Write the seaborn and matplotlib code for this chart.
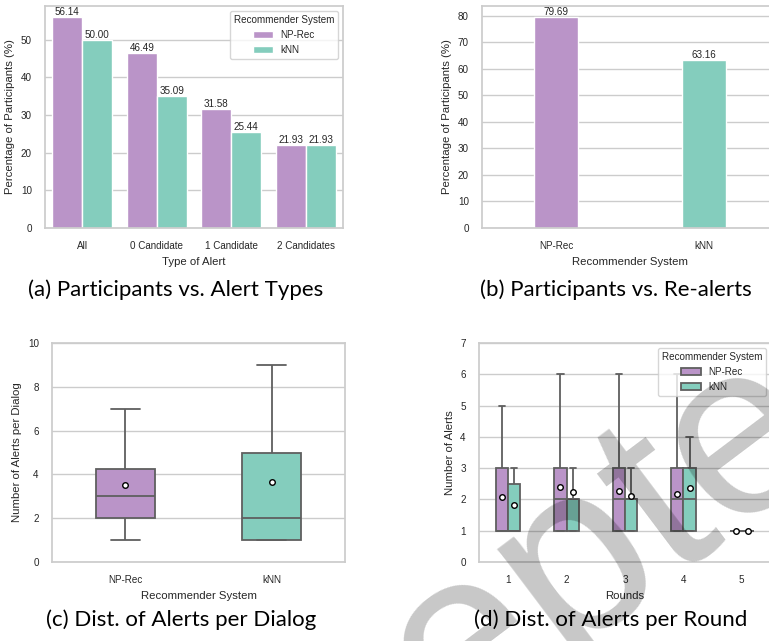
import pandas as pd
import matplotlib.pyplot as plt
import seaborn as sns

# --- data ---
systems = ['NP-Rec', 'kNN']
colors = ['#BA94C8', '#84CDBD']

alert_types = ['All', '0 Candidate', '1 Candidate', '2 Candidates']
np_rec_pct = [56.14, 46.49, 31.58, 21.93]
knn_pct = [50.00, 35.09, 25.44, 21.93]

realert_pct = [79.69, 63.16]

# alerts per dialog (samples chosen to give the drawn quartiles / means)
np_rec_dialog = [1, 1, 1, 2, 2, 2, 2, 3, 3, 3, 3, 3, 4, 4, 4, 5, 6, 7, 7, 7]
knn_dialog = [1, 1, 1, 1, 1, 2, 2, 2, 4, 5, 5, 8, 9, 9]

# alerts per round
rounds = [1, 2, 3, 4, 5]
np_rec_rounds = [
    [1, 1, 1, 1, 1, 1, 1, 3, 3, 3, 4, 5],
    [1, 1, 1, 1, 1, 1, 2, 2, 2, 2, 2, 3, 3, 3, 3, 4, 5, 6],
    [1, 1, 1, 1, 1, 1, 2, 2, 2, 2, 2, 3, 3, 3, 3, 3, 4, 6],
    [1, 1, 1, 1, 1, 1, 2, 2, 2, 2, 2, 2, 3, 3, 3, 3, 3, 6],
    [1, 1, 1],
]
knn_rounds = [
    [1, 1, 1, 1, 1, 1, 1, 2, 3, 3, 5],
    [1, 1, 1, 2, 2, 2, 2, 3, 6],
    [1, 1, 1, 2, 2, 2, 2, 3, 5],
    [1, 1, 1, 1, 1, 1, 2, 2, 2, 2, 3, 3, 3, 3, 3, 4, 4, 4, 4],
    [1, 1],
]

# --- long-form tables ---
df_a = pd.DataFrame({
    'Type of Alert': alert_types * 2,
    'pct': np_rec_pct + knn_pct,
    'Recommender System': ['NP-Rec'] * 4 + ['kNN'] * 4,
})
df_b = pd.DataFrame({'Recommender System': systems, 'pct': realert_pct})
df_c = pd.DataFrame({
    'Recommender System': ['NP-Rec'] * len(np_rec_dialog) + ['kNN'] * len(knn_dialog),
    'alerts': np_rec_dialog + knn_dialog,
})
rows = []
for r, a, b in zip(rounds, np_rec_rounds, knn_rounds):
    rows += [(r, 'NP-Rec', v) for v in a]
    rows += [(r, 'kNN', v) for v in b]
df_d = pd.DataFrame(rows, columns=['Rounds', 'Recommender System', 'alerts'])

sns.set_theme(style='whitegrid')
plt.rcParams['font.family'] = ['Liberation Sans', 'DejaVu Sans']

palette = dict(zip(systems, colors))
TICK = 7.1
LAB = 8.2
W, H = 769, 641

fig = plt.figure(figsize=(7.69, 6.41), dpi=100)

def box(l, t, r, b):
    return [l / W, 1 - b / H, (r - l) / W, (b - t) / H]

ax_a = fig.add_axes(box(45, 6, 343, 228))
ax_b = fig.add_axes(box(482, 6, 778, 228))
ax_c = fig.add_axes(box(52, 343, 345, 562))
ax_d = fig.add_axes(box(479, 343, 771, 562))

# (a)
sns.barplot(data=df_a, x='Type of Alert', y='pct', hue='Recommender System',
            palette=palette, saturation=1, ax=ax_a)
for cont in ax_a.containers:
    ax_a.bar_label(cont, fmt='%.2f', fontsize=TICK, padding=0, color='.15')
ax_a.set_ylabel('Percentage of Participants (%)', fontsize=LAB)
ax_a.set_xlabel('Type of Alert', fontsize=LAB)
ax_a.legend(title='Recommender System', loc='upper right', fontsize=TICK, title_fontsize=TICK)

# (b)
sns.barplot(data=df_b, x='Recommender System', y='pct', hue='Recommender System',
            palette=palette, saturation=1, width=0.3, legend=False, ax=ax_b)
for cont in ax_b.containers:
    ax_b.bar_label(cont, fmt='%.2f', fontsize=TICK, padding=0, color='.15')
ax_b.set_ylabel('Percentage of Participants (%)', fontsize=LAB)
ax_b.set_xlabel('Recommender System', fontsize=LAB)

mean_style = dict(marker='o', markerfacecolor='white', markeredgecolor='black',
                  markersize=4, markeredgewidth=1)

# (c)
sns.boxplot(data=df_c, x='Recommender System', y='alerts', hue='Recommender System',
            palette=palette, saturation=1, width=0.4, showmeans=True, showfliers=False,
            meanprops=mean_style, linecolor='#5f5f5f', linewidth=1.3, legend=False, ax=ax_c)
ax_c.set_ylim(0, 10)
ax_c.set_yticks(range(0, 11, 2))
ax_c.set_ylabel('Number of Alerts per Dialog', fontsize=LAB)
ax_c.set_xlabel('Recommender System', fontsize=LAB)

# (d)
sns.boxplot(data=df_d, x='Rounds', y='alerts', hue='Recommender System',
            palette=palette, saturation=1, width=0.42, showmeans=True, showfliers=False,
            meanprops=mean_style, linecolor='#5f5f5f', linewidth=1.3, ax=ax_d)
ax_d.set_ylim(0, 7)
ax_d.set_ylabel('Number of Alerts', fontsize=LAB)
ax_d.set_xlabel('Rounds', fontsize=LAB)
ax_d.legend(title='Recommender System', loc='upper right', fontsize=TICK, title_fontsize=TICK)

for ax in (ax_a, ax_b, ax_c, ax_d):
    ax.tick_params(labelsize=TICK)

# sub-captions
cap = dict(ha='center', va='baseline', fontsize=16, family=['Lato', 'DejaVu Sans'], color='black')
fig.text(176 / W, 1 - 296.5 / H, '(a) Participants vs. Alert Types', **cap)
fig.text(616 / W, 1 - 296.5 / H, '(b) Participants vs. Re-alerts', **cap)
fig.text(181 / W, 1 - 626.5 / H, '(c) Dist. of Alerts per Dialog', **cap)
fig.text(611 / W, 1 - 626.5 / H, '(d) Dist. of Alerts per Round', **cap)

# watermark
fig.text(498 / W, 1 - 632 / H, 'Accepted', rotation=37, ha='center', va='center',
         rotation_mode='anchor', fontsize=178, color='black', alpha=0.22,
         family=['Liberation Sans', 'DejaVu Sans'])

fig.savefig('out.png', dpi=100)
